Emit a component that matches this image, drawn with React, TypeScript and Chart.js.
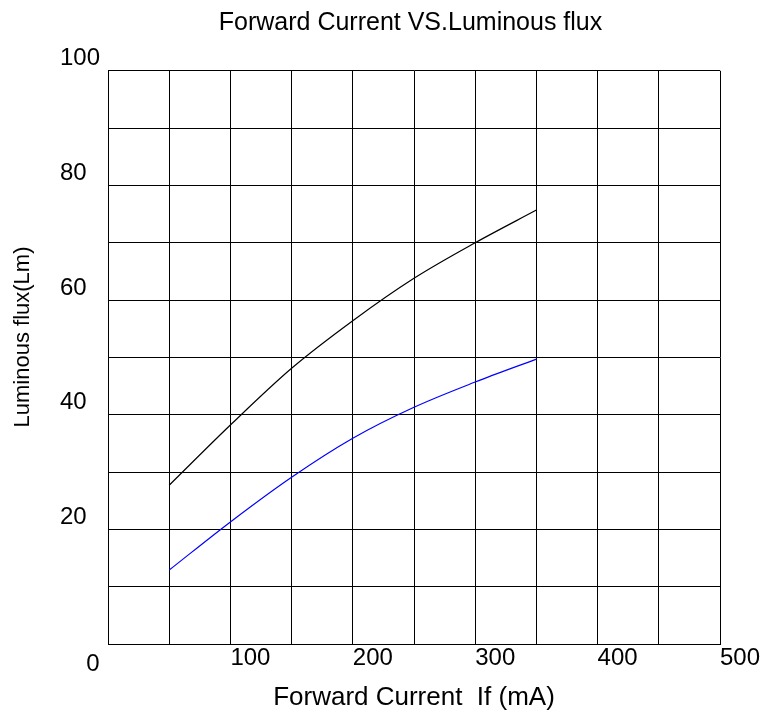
import React, { useEffect, useRef } from "react";
import { Chart, registerables } from "chart.js";

Chart.register(...registerables);

const currents = [50, 100, 150, 200, 250, 300, 350];
const fluxBlack = [27.7, 38.2, 48.1, 56.4, 63.8, 70.0, 75.7];
const fluxBlue = [12.9, 21.3, 29.1, 35.9, 41.3, 45.7, 49.7];
const xTickLabels = ["100", "200", "300", "400", "500"];
const yTickLabels = ["20", "40", "60", "80", "100"];
const chartTitle = "Forward Current VS.Luminous flux";
const xTitle = "Forward Current  If (mA)";
const yTitle = "Luminous flux(Lm)";
const originLabel = "0";

const FONT = "'Liberation Sans', Arial, sans-serif";

const extraText = {
  id: "extraText",
  afterDraw(chart: any) {
    const { ctx, chartArea } = chart;
    ctx.save();
    ctx.fillStyle = "#000";
    ctx.textAlign = "center";
    ctx.textBaseline = "alphabetic";
    ctx.font = `25px ${FONT}`;
    ctx.fillText(chartTitle, 410.5, 30);
    ctx.textBaseline = "middle";
    ctx.font = `24px ${FONT}`;
    ctx.fillText(originLabel, chartArea.left - 15, chartArea.bottom + 20);
    ctx.translate(23, 337);
    ctx.rotate(-Math.PI / 2);
    ctx.font = `22px ${FONT}`;
    ctx.fillText(yTitle, 0, 0);
    ctx.restore();
  },
};

export default function App() {
  const ref = useRef<HTMLCanvasElement>(null);
  useEffect(() => {
    if (!ref.current) return;
    const chart = new Chart(ref.current, {
      type: "line",
      data: {
        datasets: [
          {
            data: currents.map((x, i) => ({ x, y: fluxBlack[i] })),
            borderColor: "#000000",
            borderWidth: 1.2,
            pointRadius: 0,
            cubicInterpolationMode: "monotone",
          },
          {
            data: currents.map((x, i) => ({ x, y: fluxBlue[i] })),
            borderColor: "#0000ff",
            borderWidth: 1.2,
            pointRadius: 0,
            cubicInterpolationMode: "monotone",
          },
        ],
      },
      options: {
        animation: false,
        responsive: false,
        maintainAspectRatio: false,
        layout: { padding: { left: 60, right: 46, top: 70.8, bottom: 0 }, autoPadding: false },
        plugins: {
          legend: { display: false },
          tooltip: { enabled: false },
          title: { display: false },
        },
        scales: {
          x: {
            type: "linear",
            min: 0,
            max: 500,
            afterFit: (s: any) => {
              s.height = 69;
            },
            grid: { color: "#000", lineWidth: 1, drawTicks: false },
            border: { color: "#000", width: 1 },
            ticks: {
              stepSize: 50,
              autoSkip: false,
              maxRotation: 0,
              align: "start",
              padding: 0,
              color: "#000",
              font: { family: FONT, size: 24 },
              callback: (v: any) => (xTickLabels.includes(String(v)) ? String(v) : ""),
            },
            title: {
              display: true,
              text: xTitle,
              color: "#000",
              font: { family: FONT, size: 26 },
              padding: { top: 0, bottom: 0 },
            },
          },
          y: {
            min: 0,
            max: 100,
            afterFit: (s: any) => {
              s.width = 48;
            },
            grid: { color: "#000", lineWidth: 1, drawTicks: false },
            border: { color: "#000", width: 1 },
            ticks: {
              stepSize: 10,
              autoSkip: false,
              crossAlign: "far",
              labelOffset: -12,
              color: "#000",
              font: { family: FONT, size: 24 },
              callback: (v: any) => (yTickLabels.includes(String(v)) ? String(v) : ""),
            },
          },
        },
      },
      plugins: [extraText],
    });
    return () => chart.destroy();
  }, []);
  return (
    <div style={{ position: "fixed", left: 0, top: 0, width: 766, height: 713, background: "#fff" }}>
      <canvas ref={ref} width={766} height={713} style={{ width: 766, height: 713 }} />
    </div>
  );
}
